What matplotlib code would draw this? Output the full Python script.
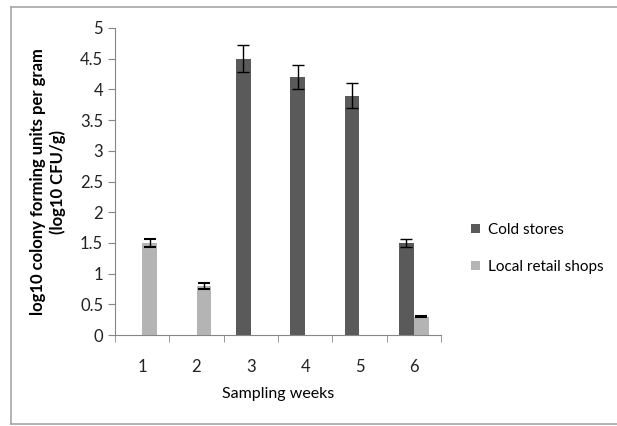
import matplotlib.pyplot as plt
import numpy as np

weeks = ["1", "2", "3", "4", "5", "6"]
cold_stores = [0, 0, 4.5, 4.2, 3.9, 1.5]
cold_err = [0, 0, 0.22, 0.2, 0.2, 0.07]
retail_shops = [1.5, 0.8, 0, 0, 0, 0.3]
retail_err = [0.07, 0.05, 0, 0, 0, 0.01]

plt.rcParams['font.family'] = ['Lato', 'DejaVu Sans']

fig = plt.figure(figsize=(6.17, 4.26), dpi=100)
ax = fig.add_axes([115 / 617, 1 - 335 / 426, 326 / 617, 307 / 426])

# outer chart border (left, top, bottom)
border = "#a6a6a6"
fig.add_artist(plt.Line2D([11 / 617, 11 / 617], [1 - 7 / 426, 1 - 424 / 426],
                          color=border, lw=1.2, transform=fig.transFigure))
fig.add_artist(plt.Line2D([11 / 617, 1], [1 - 7 / 426, 1 - 7 / 426],
                          color=border, lw=1.2, transform=fig.transFigure))
fig.add_artist(plt.Line2D([11 / 617, 1], [1 - 424 / 426, 1 - 424 / 426],
                          color=border, lw=1.2, transform=fig.transFigure))

x = np.arange(len(weeks))
w = 0.27
cold_mask = np.array(cold_stores) > 0
retail_mask = np.array(retail_shops) > 0
ax.bar(x - w / 2, cold_stores, w, color="#5a5a5a", label="Cold stores")
ax.bar(x + w / 2, retail_shops, w, color="#b4b4b4", label="Local retail shops")
ax.errorbar((x - w / 2)[cold_mask], np.array(cold_stores)[cold_mask],
            yerr=np.array(cold_err)[cold_mask], fmt="none", ecolor="black",
            elinewidth=1, capsize=4, capthick=1)
ax.errorbar((x + w / 2)[retail_mask], np.array(retail_shops)[retail_mask],
            yerr=np.array(retail_err)[retail_mask], fmt="none", ecolor="black",
            elinewidth=1, capsize=4, capthick=1.5)

ax.set_xlim(-0.5, 5.5)
ax.set_ylim(0, 5)
ax.set_yticks(np.arange(0, 5.01, 0.5))
ax.set_yticklabels(["0", "0.5", "1", "1.5", "2", "2.5", "3", "3.5", "4", "4.5", "5"])
ax.set_xticks(x)
ax.set_xticklabels(weeks)
ax.set_xticks(np.arange(-0.5, 6, 1), minor=True)
ax.tick_params(axis="x", which="major", length=0, pad=17, labelsize=12, colors="#222222")
ax.tick_params(axis="x", which="minor", length=5, direction="out", color="#868686")
ax.tick_params(axis="y", length=5, direction="out", color="#868686", labelsize=12,
               labelcolor="#222222")
for s in ["top", "right"]:
    ax.spines[s].set_visible(False)
for s in ["left", "bottom"]:
    ax.spines[s].set_color("#868686")

ax.set_xlabel("Sampling weeks", fontsize=11.5, labelpad=9)
ax.set_ylabel("log10 colony forming units per gram\n(log10 CFU/g)", fontsize=12,
              fontweight="bold", labelpad=10, linespacing=1.3)

ax.legend(loc="upper left", bbox_to_anchor=(1.05, 0.41), frameon=False,
          handlelength=0.6, handleheight=0.6, handletextpad=0.5, labelspacing=1.5,
          fontsize=11)

fig.savefig("out.png", dpi=100)
